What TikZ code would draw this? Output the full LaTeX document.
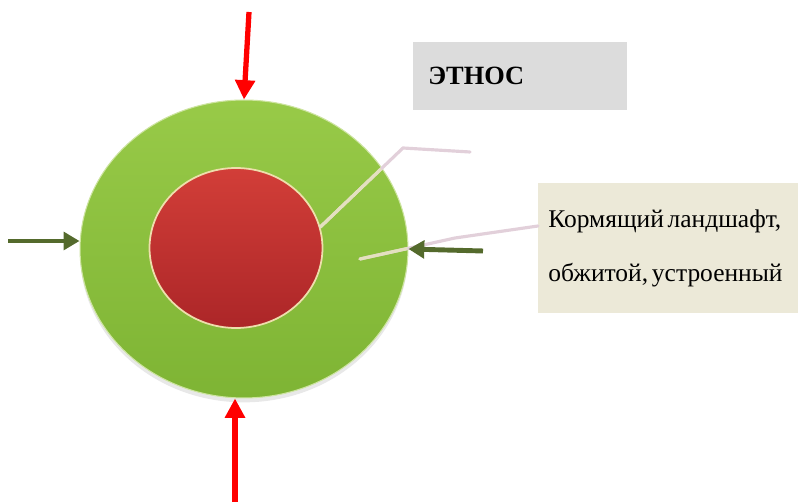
\documentclass[tikz,border=0pt]{standalone}
\usepackage{fontspec}
\setmainfont{Liberation Serif}
\usetikzlibrary{arrows.meta,positioning,shapes.geometric,shadows}

\definecolor{grasstop}{RGB}{152,202,72}
\definecolor{grassbottom}{RGB}{126,180,52}
\definecolor{grassrim}{RGB}{205,228,160}
\definecolor{coretop}{RGB}{210,62,56}
\definecolor{corebottom}{RGB}{172,38,40}
\definecolor{corerim}{RGB}{238,222,172}
\definecolor{olivearrow}{RGB}{84,106,44}
\definecolor{leader}{RGB}{226,208,218}
\definecolor{leaderin}{RGB}{228,224,192}
\definecolor{boxgray}{RGB}{220,220,220}
\definecolor{boxbeige}{RGB}{236,233,216}

\newcommand\tightspaces{\spaceskip=0.15em\relax\xspaceskip=0.15em\relax}

\begin{document}
\begin{tikzpicture}[x=0.02cm,y=-0.02cm,
  force/.style={-{Triangle[length=11pt,width=11pt]},line width=3pt,red},
  push/.style={-{Triangle[length=9pt,width=10pt]},line width=2.8pt,olivearrow},
  callout/.style={line width=1.8pt,leader,line cap=round},
  label box/.style={anchor=north west,inner sep=0pt,align=left}]
  \useasboundingbox (0,0) rectangle (798,502);

  % landscape and ethnos
  \node[ellipse,minimum width=6.56cm,minimum height=5.96cm,top color=grasstop,bottom color=grassbottom,
        draw=grassrim,line width=0.6pt,
        drop shadow={shadow xshift=0pt,shadow yshift=-2.5pt,opacity=0.18}] (outer) at (244,249) {};
  \node[ellipse,minimum width=3.46cm,minimum height=3.2cm,top color=coretop,bottom color=corebottom,
        draw=corerim,line width=1pt] (inner) at (236,248) {};

  % labels
  \node[label box,fill=boxgray,minimum width=4.28cm,minimum height=1.36cm,text width=3.68cm,inner xsep=0.3cm,
        font=\fontsize{15}{18}\selectfont\bfseries] (ethnos) at (413,42) {ЭТНОС};
  \node[label box,fill=boxbeige,minimum width=5.2cm,minimum height=2.6cm,text width=4.8cm,inner xsep=0.2cm,
        font=\fontsize{14.5}{31}\selectfont] (landscape) at (538,183)
        {\tightspaces Кормящий ландшафт,\\\tightspaces обжитой, устроенный};

  % leader lines
  \coordinate (bend1) at (403,148);
  \coordinate (end1) at (470,152);
  \coordinate (start2) at (360,259);
  \coordinate (bend2) at (455,238);
  \draw[callout] (inner.14) -- (bend1) -- (end1);
  \draw[callout] (start2) -- (bend2) -- (landscape.west |- 0,226);
  \begin{scope}
    \clip (outer.center) ellipse [x radius=163,y radius=148];
    \draw[callout,leaderin] (inner.14) -- (bend1);
    \draw[callout,leaderin] (start2) -- (bend2);
  \end{scope}

  % outside forces
  \coordinate (top in) at (249,12);
  \coordinate (bottom in) at (235,502);
  \coordinate (left in) at (8,241);
  \coordinate (right in) at (483,251);
  \draw[force] (top in) -- (outer.north);
  \draw[force] (bottom in) -- (bottom in |- outer.south);
  \draw[push] (left in) -- (outer.west |- left in);
  \draw[push] (right in) -- (outer.east);
\end{tikzpicture}
\end{document}
